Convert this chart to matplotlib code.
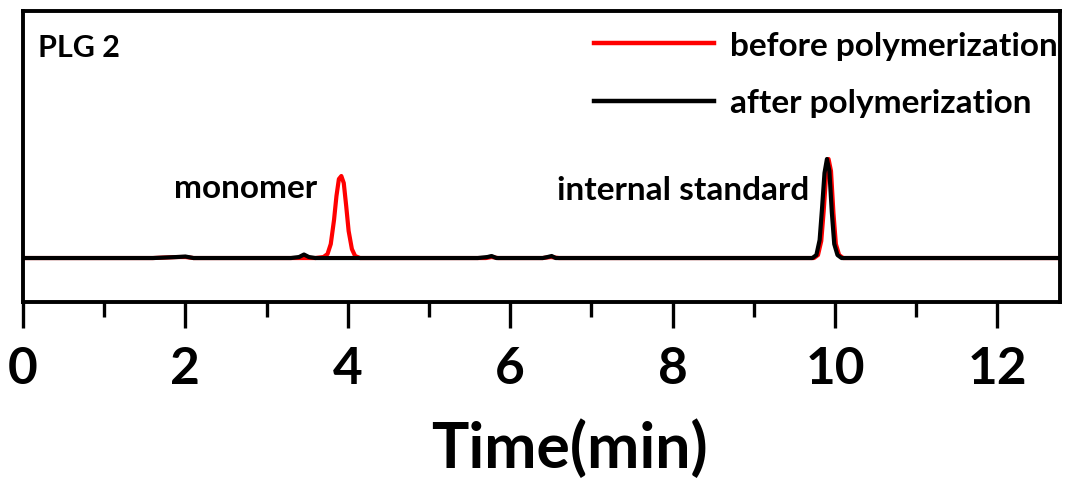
import matplotlib
matplotlib.use("Agg")
import matplotlib.pyplot as plt
from matplotlib.ticker import MultipleLocator

plt.rcParams['font.family'] = ['Lato', 'DejaVu Sans']
plt.rcParams['font.weight'] = 'bold'

# traces (time in min, signal in arbitrary units)
before_t = [0.0, 1.6, 1.9, 2.0, 2.1, 2.4, 2.6, 2.8, 3.0, 3.3, 3.6, 3.70, 3.75, 3.79, 3.83,
            3.86, 3.89, 3.92, 3.95, 3.98, 4.01, 4.05, 4.09, 4.15, 4.4, 5.0, 5.7, 5.77,
            5.85, 6.4, 6.5, 6.6, 7.5, 8.5, 9.5, 9.74, 9.79, 9.83, 9.86, 9.89, 9.92,
            9.95, 9.98, 10.01, 10.05, 10.10, 10.3, 11.0, 12.0, 12.8]
before_y = [0.0, 0.0, 0.01, 0.01, 0.0, 0.0, 0.0, 0.0, 0.0, 0.0, 0.0, 0.01, 0.04, 0.14,
            0.38, 0.62, 0.79, 0.82, 0.75, 0.52, 0.27, 0.09, 0.02, 0.0, 0.0, 0.0, 0.0,
            0.01, 0.0, 0.0, 0.01, 0.0, 0.0, 0.0, 0.0, 0.0, 0.03, 0.17, 0.47, 0.83,
            0.99, 0.87, 0.45, 0.14, 0.03, 0.0, 0.0, 0.0, 0.0, 0.0]

after_t = [0.0, 1.6, 1.9, 2.0, 2.1, 2.4, 2.6, 2.8, 3.0, 3.3, 3.40, 3.46, 3.52, 3.6,
           4.5, 5.6, 5.72, 5.77, 5.83, 6.4, 6.46, 6.51, 6.56, 7.5, 8.5, 9.5, 9.72,
           9.77, 9.81, 9.84, 9.87, 9.90, 9.93, 9.96, 9.99, 10.03, 10.08, 10.3, 11.0,
           12.0, 12.8]
after_y = [0.0, 0.0, 0.01, 0.015, 0.0, 0.0, 0.0, 0.0, 0.0, 0.0, 0.01, 0.035, 0.01,
           0.0, 0.0, 0.0, 0.01, 0.02, 0.0, 0.0, 0.01, 0.02, 0.0, 0.0, 0.0, 0.0, 0.0,
           0.03, 0.18, 0.50, 0.85, 0.99, 0.87, 0.46, 0.14, 0.03, 0.0, 0.0, 0.0, 0.0,
           0.0]

fig = plt.figure(figsize=(10.65, 4.81), dpi=100)
ax = fig.add_axes([0.0216, 0.370, 0.9737, 0.605])

ax.plot(before_t, before_y, color='#ff0000', lw=3.0, label='before polymerization')
ax.plot(after_t, after_y, color='black', lw=3.0, label='after polymerization')

ax.set_xlim(0, 12.77)
ax.set_ylim(-0.44, 2.47)
ax.set_yticks([])
ax.xaxis.set_major_locator(MultipleLocator(2))
ax.xaxis.set_minor_locator(MultipleLocator(1))
ax.tick_params(axis='x', which='major', direction='out', length=19, width=2.4,
               labelsize=37, pad=12)
ax.tick_params(axis='x', which='minor', direction='out', length=11, width=2.4)
for s in ax.spines.values():
    s.set_linewidth(2.8)
for lab in ax.get_xticklabels():
    lab.set_fontweight('bold')

ax.set_xlabel('Time(min)', fontsize=45, fontweight='bold')
ax.xaxis.set_label_coords(0.527, -0.40)
ax.xaxis.label.set_va('top')

ax.text(0.0145, 0.876, 'PLG 2', transform=ax.transAxes, fontsize=22,
        fontweight='bold', va='center')
ax.text(2.74, 0.71, 'monomer', fontsize=24, fontweight='bold', ha='center', va='center')
ax.text(8.13, 0.69, 'internal standard', fontsize=24, fontweight='bold',
        ha='center', va='center')

leg = ax.legend(loc='upper right', bbox_to_anchor=(1.027, 1.035), frameon=False,
                handlelength=3.6, handletextpad=0.5, labelspacing=0.85,
                prop={'weight': 'bold', 'size': 24})
for ln in leg.get_lines():
    ln.set_linewidth(3.2)

fig.savefig('out.png', dpi=100)
